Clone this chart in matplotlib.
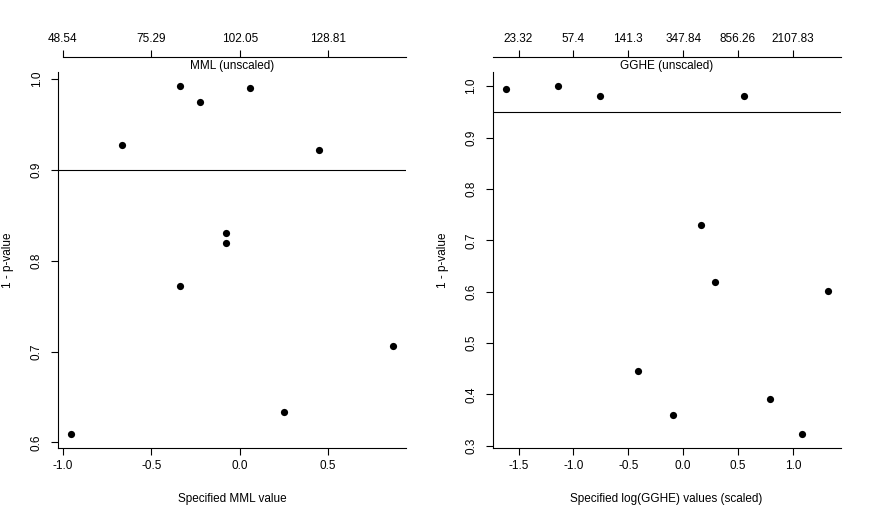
"""Two R-style scatter panels: 1 - p-value against the specified MML / log(GGHE) values."""

import matplotlib

matplotlib.use("Agg")

import matplotlib.pyplot as plt

# Left panel: specified MML value (scaled) vs 1 - p-value
MML_X = [-0.955, -0.665, -0.338, -0.338, -0.225, -0.077, -0.077, 0.055, 0.250, 0.446, 0.867]
MML_P = [0.6095, 0.927, 0.992, 0.7725, 0.975, 0.830, 0.820, 0.990, 0.633, 0.9215, 0.7066]
MML_TICKS = [-1.0, -0.5, 0.0, 0.5]
MML_TOP_LABELS = ["48.54", "75.29", "102.05", "128.81"]
MML_YTICKS = [0.6, 0.7, 0.8, 0.9, 1.0]
MML_CUTOFF = 0.9

# Right panel: specified log(GGHE) value (scaled) vs 1 - p-value
GGHE_X = [-1.618, -1.136, -0.755, -0.412, -0.091, 0.164, 0.291, 0.555, 0.788, 1.085, 1.318]
GGHE_P = [0.994, 1.0, 0.9815, 0.4465, 0.359, 0.730, 0.6185, 0.9815, 0.3914, 0.3233, 0.6016]
GGHE_TICKS = [-1.5, -1.0, -0.5, 0.0, 0.5, 1.0]
GGHE_TOP_LABELS = ["23.32", "57.4", "141.3", "347.84", "856.26", "2107.83"]
GGHE_YTICKS = [0.3, 0.4, 0.5, 0.6, 0.7, 0.8, 0.9, 1.0]
GGHE_CUTOFF = 0.95

plt.rcParams["font.family"] = ["Liberation Sans", "DejaVu Sans"]
plt.rcParams["font.size"] = 8.5

LW = 0.8


def r_range(values):
    # Comme R (xaxs = "r") : étendue des données + 4 % de chaque côté.
    lo, hi = min(values), max(values)
    pad = (hi - lo) * 0.04
    return lo - pad, hi + pad


def panel(ax, x, p, ticks, top_labels, yticks, cutoff, xlabel, toplabel, top_from_tick):
    ax.scatter(x, p, s=27, color="black", zorder=3, linewidths=0)
    ax.axhline(cutoff, color="black", lw=LW)

    ax.set_xlim(r_range(x))
    ax.set_ylim(r_range(p))

    for side in ("top", "right"):
        ax.spines[side].set_visible(False)
    for side in ("left", "bottom"):
        ax.spines[side].set_linewidth(LW)

    ax.set_xticks(ticks)
    ax.set_xticklabels([f"{t:.1f}" for t in ticks])
    ax.set_yticks(yticks)
    ax.set_yticklabels([f"{t:.1f}" for t in yticks])
    ax.tick_params(axis="x", length=5, width=LW, pad=4)
    ax.tick_params(axis="y", length=5, width=LW, pad=6, labelrotation=90)
    for t in ax.get_yticklabels():
        t.set_va("center")

    ax.set_xlabel(xlabel)
    ax.xaxis.label.set_va("center")
    ax.xaxis.set_label_coords(0.5, -0.137)
    ax.set_ylabel("1 - p-value")
    ax.yaxis.label.set_va("center")
    ax.yaxis.set_label_coords(-0.143, 0.5)

    # Axe du haut : les mêmes positions, libellées en valeurs non réduites.
    top = ax.twiny()
    top.set_xlim(ax.get_xlim())
    top.set_xticks(ticks)
    top.set_xticklabels(top_labels)
    for side in ("left", "right", "bottom"):
        top.spines[side].set_visible(False)
    top.spines["top"].set_position(("outward", 10.8))
    top.spines["top"].set_linewidth(LW)
    lo = ticks[0] if top_from_tick else ax.get_xlim()[0]
    top.spines["top"].set_bounds(lo, ax.get_xlim()[1])
    top.tick_params(axis="x", length=5, width=LW, pad=3.5)

    ax.annotate(toplabel, xy=(0.5, 1), xycoords="axes fraction", xytext=(0, 4.3),
                textcoords="offset points", ha="center", va="center")


fig = plt.figure(figsize=(8.7, 5.2), dpi=100)
ax_mml = fig.add_axes([0.0667, 0.139, 0.4, 0.722])
ax_gghe = fig.add_axes([0.5663, 0.139, 0.4, 0.722])

panel(ax_mml, MML_X, MML_P, MML_TICKS, MML_TOP_LABELS, MML_YTICKS, MML_CUTOFF,
      "Specified MML value", "MML (unscaled)", True)
panel(ax_gghe, GGHE_X, GGHE_P, GGHE_TICKS, GGHE_TOP_LABELS, GGHE_YTICKS, GGHE_CUTOFF,
      "Specified log(GGHE) values (scaled)", "GGHE (unscaled)", False)

fig.savefig("out.png", dpi=100)
plt.close(fig)
